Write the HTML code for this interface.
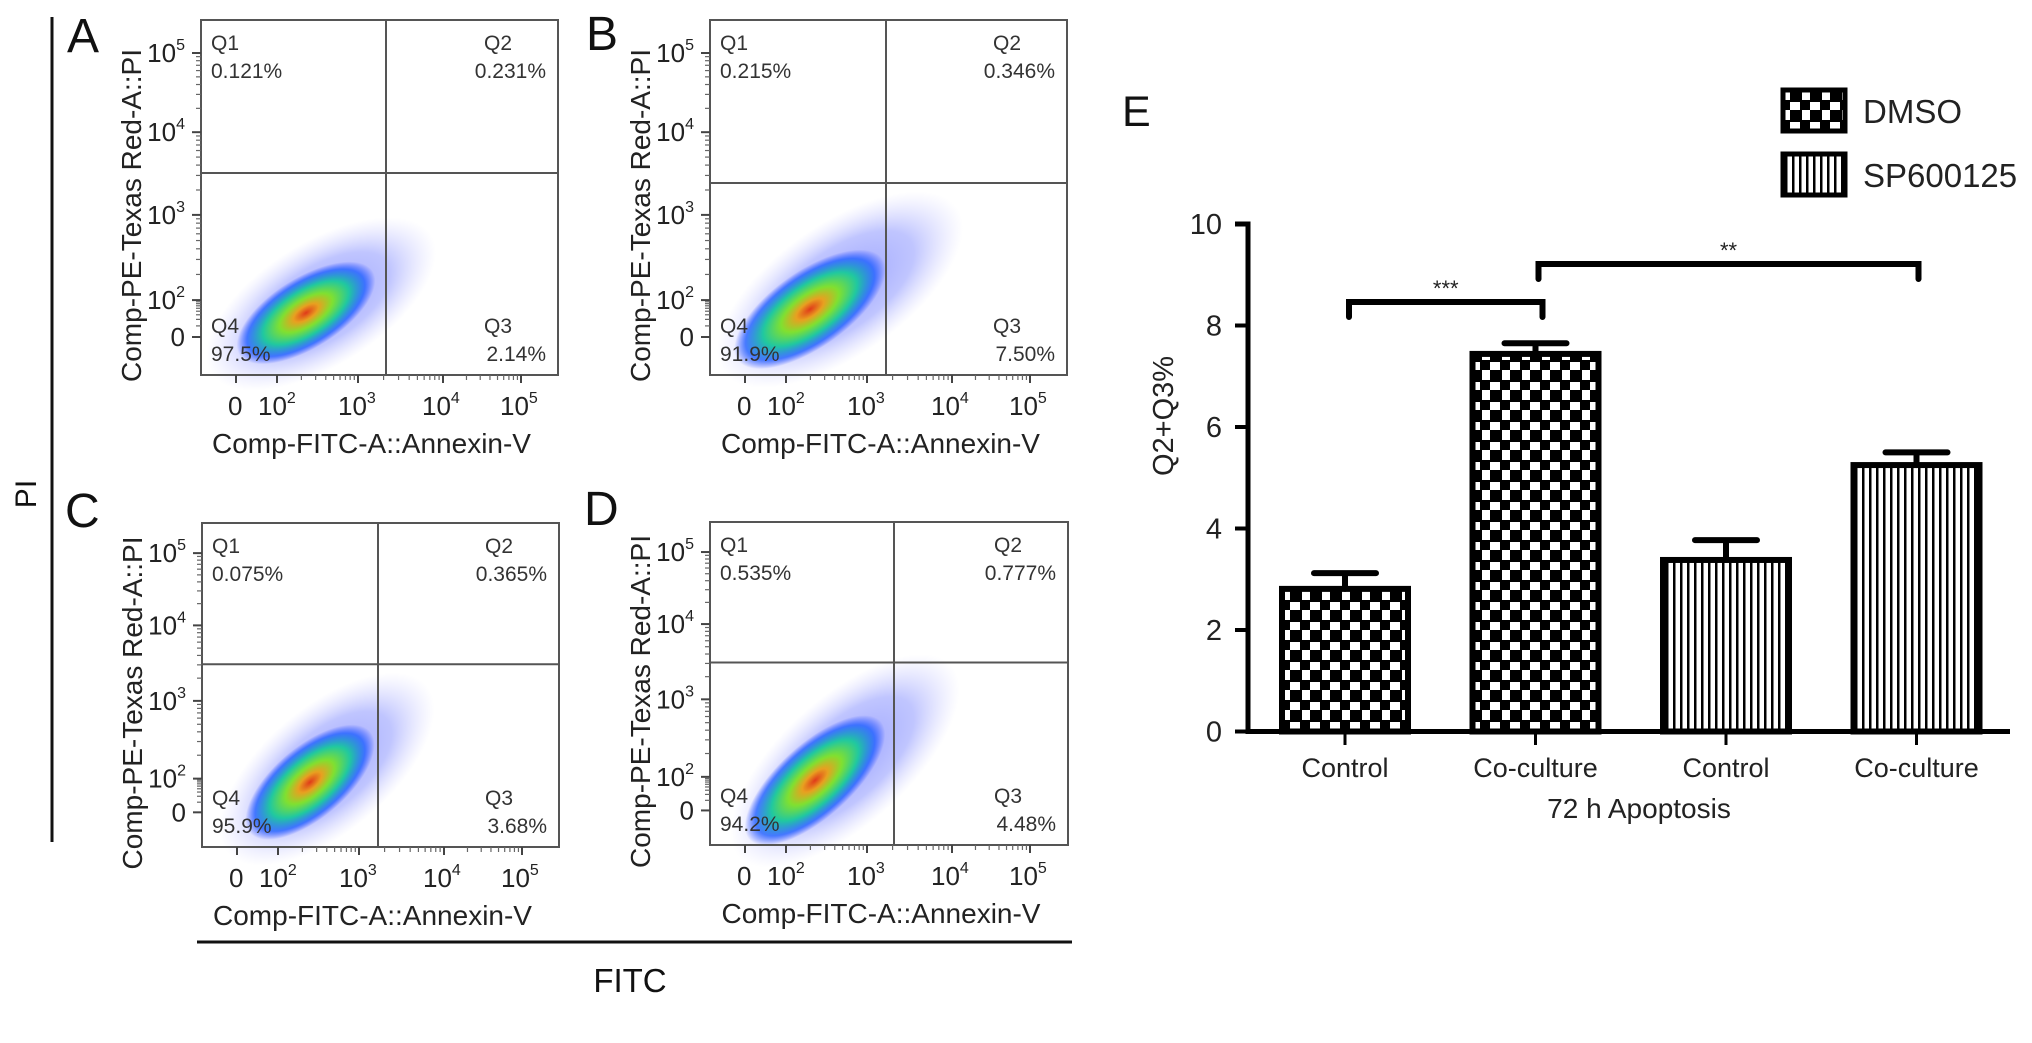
<!DOCTYPE html>
<html><head><meta charset="utf-8"><style>
html,body{margin:0;padding:0;background:#fff}
svg{display:block;font-family:"Liberation Sans",Arial,sans-serif}
</style></head><body>
<svg id="fig" width="2032" height="1043" viewBox="0 0 2032 1043" xmlns="http://www.w3.org/2000/svg">
<defs>
<radialGradient id="blobOuter" cx="50%" cy="50%" r="50%">
<stop offset="0" stop-color="#3040ff" stop-opacity="0.9"/>
<stop offset="0.6" stop-color="#4050ff" stop-opacity="0.6"/>
<stop offset="1" stop-color="#9090ff" stop-opacity="0"/>
</radialGradient>
<radialGradient id="blobInner" cx="50%" cy="50%" r="50%">
<stop offset="0" stop-color="#e03a1a"/>
<stop offset="0.18" stop-color="#e8a020"/>
<stop offset="0.38" stop-color="#80e030"/>
<stop offset="0.62" stop-color="#20c8a0"/>
<stop offset="0.85" stop-color="#2060ff" stop-opacity="0.8"/>
<stop offset="1" stop-color="#2040ff" stop-opacity="0"/>
</radialGradient>
<pattern id="checker" width="20" height="20" patternUnits="userSpaceOnUse">
<rect width="20" height="20" fill="#fff"/>
<rect x="0" y="0" width="10" height="10" fill="#000"/>
<rect x="10" y="10" width="10" height="10" fill="#000"/>
<rect x="0" y="0" width="20" height="2" fill="#000"/>
<rect x="0" y="0" width="2" height="20" fill="#000"/>
</pattern>
<pattern id="stripes" width="7" height="10" patternUnits="userSpaceOnUse">
<rect width="7" height="10" fill="#fff"/>
<rect x="0" y="0" width="2.5" height="10" fill="#000"/>
</pattern>
</defs>
<g id="flow"></g>
<g id="bars"></g>
</svg>
<script>
// ---- Flow panel data ----
const panelLetters = ["A","B","C","D"];
const q1Vals = ["0.121%","0.215%","0.075%","0.535%"];
const q2Vals = ["0.231%","0.346%","0.365%","0.777%"];
const q3Vals = ["2.14%","7.50%","3.68%","4.48%"];
const q4Vals = ["97.5%","91.9%","95.9%","94.2%"];
const hGateFrac = [0.431,0.459,0.436,0.435];
const vGateOff = [185,176,176,184];
const yTickLabels = ["5","4","3","2","0"];
const yTickFrac = [0.093,0.316,0.549,0.789,0.893];

// ---- Bar chart data ----
const categories = ["Control","Co-culture","Control","Co-culture"];
const barValues = [2.81,7.44,3.38,5.25];
const barErrors = [0.31,0.21,0.39,0.25];
const barSeries = ["DMSO","DMSO","SP600125","SP600125"];
const yTicks = [0,2,4,6,8,10];
const legendLabels = ["DMSO","SP600125"];
const sigLabels = ["***","**"];

const NS = "http://www.w3.org/2000/svg";
function mk(tag, attrs, parent, text){
  const e = document.createElementNS(NS, tag);
  for (const k in attrs) e.setAttribute(k, attrs[k]);
  if (text !== undefined) e.textContent = text;
  parent.appendChild(e);
  return e;
}
const flow = document.getElementById('flow');
const boxes = [
  {x:201,y:20,w:357,h:355,lx:67,ly:52},
  {x:710,y:20,w:357,h:355,lx:586,ly:50},
  {x:202,y:523,w:357,h:324,lx:65,ly:527},
  {x:710,y:522,w:358,h:323,lx:584,ly:525}
];
const blobs = [
  {cx:120,cy:0.80,rx:105,ry:44,rot:-32,ix:105,iy:0.825},
  {cx:130,cy:0.76,rx:118,ry:48,rot:-35,ix:100,iy:0.815},
  {cx:125,cy:0.76,rx:105,ry:45,rot:-40,ix:108,iy:0.80},
  {cx:135,cy:0.74,rx:118,ry:46,rot:-42,ix:105,iy:0.80}
];
boxes.forEach((b,i)=>{
  const g = mk('g',{},flow);
  
  
  const L = mk('text',{x:b.lx,y:b.ly,'font-size':48,fill:'#111'},g,panelLetters[i]);
  
  
  // density blob
  const bl = blobs[i];
  const bx = b.x+bl.cx, by = b.y+bl.cy*b.h;
  mk('ellipse',{cx:bx,cy:by,rx:bl.rx+25,ry:bl.ry+18,fill:'url(#blobOuter)',opacity:0.55,transform:`rotate(${bl.rot} ${bx} ${by})`},g);
  const ix=b.x+bl.ix, iy=b.y+bl.iy*b.h;
  mk('ellipse',{cx:ix,cy:iy,rx:bl.rx*0.75,ry:bl.ry*0.8,fill:'url(#blobInner)',transform:`rotate(${bl.rot} ${ix} ${iy})`},g);
  // box
  const box = mk('rect',{x:b.x,y:b.y,width:b.w,height:b.h,fill:'none',stroke:'#555','stroke-width':2},g);
  
  
  const hy = b.y + hGateFrac[i]*b.h, vx = b.x + vGateOff[i];
  const hl = mk('line',{x1:b.x,y1:hy,x2:b.x+b.w,y2:hy,stroke:'#555','stroke-width':2},g);
  
  
  const vl = mk('line',{x1:vx,y1:b.y,x2:vx,y2:b.y+b.h,stroke:'#555','stroke-width':2},g);
  
  
  // quadrant labels
  const fs = 21;
  const qa = [
    ['Q1',q1Vals[i],b.x+10,b.y+30,'start'],
    ['Q2',q2Vals[i],b.x+b.w-12,b.y+30,'end'],
    ['Q4',q4Vals[i],b.x+10,b.y+b.h-42,'start'],
    ['Q3',q3Vals[i],b.x+b.w-12,b.y+b.h-42,'end']
  ];
  qa.forEach(q=>{
    const t1 = mk('text',{x:q[4]==='end'?q[2]-25:q[2],y:q[3],'font-size':fs,fill:'#333','text-anchor':q[4]==='end'?'start':'start'},g,q[0]);
    if(q[4]==='end'){t1.setAttribute('x',q[2]-62);}
    
    
    const t2 = mk('text',{x:q[2],y:q[3]+28,'font-size':fs,fill:'#333','text-anchor':q[4]},g,q[1]);
    
    
  });
  // y ticks
  yTickFrac.forEach((f,k)=>{
    const ty = b.y + f*b.h;
    mk('line',{x1:b.x-9,y1:ty,x2:b.x,y2:ty,stroke:'#444','stroke-width':2},g);
    let t;
    if (yTickLabels[k]==='0'){
      t = mk('text',{x:b.x-16,y:ty+9,'font-size':26,fill:'#222','text-anchor':'end'},g,'0');
    } else {
      t = mk('text',{x:b.x-16,y:ty+9,'font-size':26,fill:'#222','text-anchor':'end'},g);
      mk('tspan',{},t,'10');
      mk('tspan',{'font-size':16,dy:-12},t,yTickLabels[k]);
    }
    
    
  });
  // minor y ticks
  for(let k=0;k<4;k++){
    const a=yTickFrac[k], c=yTickFrac[k+1];
    for(let m=2;m<10;m++){
      const ty = b.y + (c - (c-a)*Math.log10(m))*b.h;
      mk('line',{x1:b.x-5,y1:ty,x2:b.x,y2:ty,stroke:'#666','stroke-width':1.2},g);
    }
  }
  // x ticks
  const xl = [['0',27],['2',57],['3',137],['4',221],['5',299]];
  const xt = [35,76,157,242,320];
  xt.forEach(o=>{
    mk('line',{x1:b.x+o,y1:b.y+b.h,x2:b.x+o,y2:b.y+b.h+8,stroke:'#444','stroke-width':2},g);
  });
  for(let k=1;k<4;k++){
    for(let m=2;m<10;m++){
      const tx = b.x + xt[k] + (xt[k+1]-xt[k])*Math.log10(m);
      mk('line',{x1:tx,y1:b.y+b.h,x2:tx,y2:b.y+b.h+5,stroke:'#666','stroke-width':1.2},g);
    }
  }
  xl.forEach(p=>{
    let t;
    const ty = b.y+b.h+40;
    if(p[0]==='0'){ t = mk('text',{x:b.x+p[1],y:ty,'font-size':26,fill:'#222'},g,'0'); }
    else { t = mk('text',{x:b.x+p[1],y:ty,'font-size':26,fill:'#222'},g); mk('tspan',{},t,'10'); mk('tspan',{'font-size':16,dy:-12},t,p[0]); }
    
    
  });
  const xtT = mk('text',{x:b.x+b.w/2-8,y:b.y+b.h+78,'font-size':28,fill:'#222','text-anchor':'middle'},g,'Comp-FITC-A::Annexin-V');
  
  
  const tcx = b.x-70, tcy = b.y+b.h/2+18;
  const ytT = mk('text',{x:tcx,y:tcy+10,'font-size':28,fill:'#222','text-anchor':'middle',transform:`rotate(-90 ${tcx} ${tcy})`},g,'Comp-PE-Texas Red-A::PI');
  
  
});
// PI & FITC global labels
const piLine = mk('line',{x1:52,y1:17,x2:52,y2:842,stroke:'#111','stroke-width':3},flow);


const piT = mk('text',{x:25,y:494+11,'font-size':30,fill:'#111','text-anchor':'middle',transform:'rotate(-90 25 494)'},flow,'PI');


const fLine = mk('line',{x1:197,y1:942,x2:1072,y2:942,stroke:'#111','stroke-width':3},flow);


const fT = mk('text',{x:630,y:992,'font-size':33,fill:'#111','text-anchor':'middle'},flow,'FITC');



// ---- Bar chart ----
const bars = document.getElementById('bars');
const axX = 1248, y0px = 731.5, y10px = 224, xEnd = 2010;
const yScale = v => y0px - (v/10)*(y0px-y10px);
const xCenter = i => 1345 + i*190.5;
const bw = 126;
const E = mk('text',{x:1122,y:126,'font-size':43,fill:'#111'},bars,'E');


barValues.forEach((v,i)=>{
  const cx = xCenter(i), top = yScale(v), bot = yScale(0);
  const r = mk('rect',{x:cx-bw/2,y:top,width:bw,height:bot-top,fill:barSeries[i]==='DMSO'?'url(#checker)':'url(#stripes)',stroke:'#000','stroke-width':6},bars);
  
  
  const ey = yScale(v+barErrors[i]);
  const eb = mk('path',{d:`M${cx},${top} L${cx},${ey} M${cx-31},${ey} L${cx+31},${ey}`,stroke:'#000','stroke-width':6,fill:'none','stroke-linecap':'round'},bars);
  
  
  mk('line',{x1:cx,y1:y0px,x2:cx,y2:745,stroke:'#000','stroke-width':3},bars);
  const cl = mk('text',{x:cx,y:777,'font-size':27,fill:'#222','text-anchor':'middle'},bars,categories[i]);
  
  
});
const yAx = mk('path',{d:`M${axX-13},${y10px} L${axX},${y10px} L${axX},${y0px} L${xEnd},${y0px}`,stroke:'#000','stroke-width':5,fill:'none'},bars);


yTicks.forEach(t=>{
  const ty = yScale(t);
  mk('line',{x1:axX-13,y1:ty,x2:axX,y2:ty,stroke:'#000','stroke-width':4},bars);
  const tl = mk('text',{x:1222,y:ty+10,'font-size':29,fill:'#222','text-anchor':'end'},bars,String(t));
  
  
});
const yt = mk('text',{x:1163,y:416+10,'font-size':29,fill:'#222','text-anchor':'middle',transform:'rotate(-90 1163 416)'},bars,'Q2+Q3%');


const xt = mk('text',{x:1639,y:818,'font-size':28,fill:'#222','text-anchor':'middle'},bars,'72 h Apoptosis');


// significance brackets
const br = [[0,1,302,sigLabels[0]],[1,3,264,sigLabels[1]]];
br.forEach(s=>{
  const x1 = s[0]===0 ? xCenter(0)+4 : xCenter(1)+3, x2 = xCenter(s[1])+ (s[1]===1?7:2);
  const p = mk('path',{d:`M${x1},${s[2]+15} L${x1},${s[2]} L${x2},${s[2]} L${x2},${s[2]+15}`,stroke:'#000','stroke-width':6,fill:'none','stroke-linecap':'round'},bars);
  
  
  const st = mk('text',{x:(x1+x2)/2,y:s[2]-6,'font-size':22,fill:'#222','text-anchor':'middle'},bars,s[3]);
  
  
});
// legend
legendLabels.forEach((l,i)=>{
  const ly = 88 + i*64;
  const g = mk('g',{},bars);
  
  
  mk('rect',{x:1783,y:ly+2,width:62,height:41,fill:i===0?'url(#checker)':'url(#stripes)',stroke:'#000','stroke-width':5},g);
  mk('text',{x:1863,y:ly+35,'font-size':33,fill:'#222'},g,l);
});
</script>
</body></html>
